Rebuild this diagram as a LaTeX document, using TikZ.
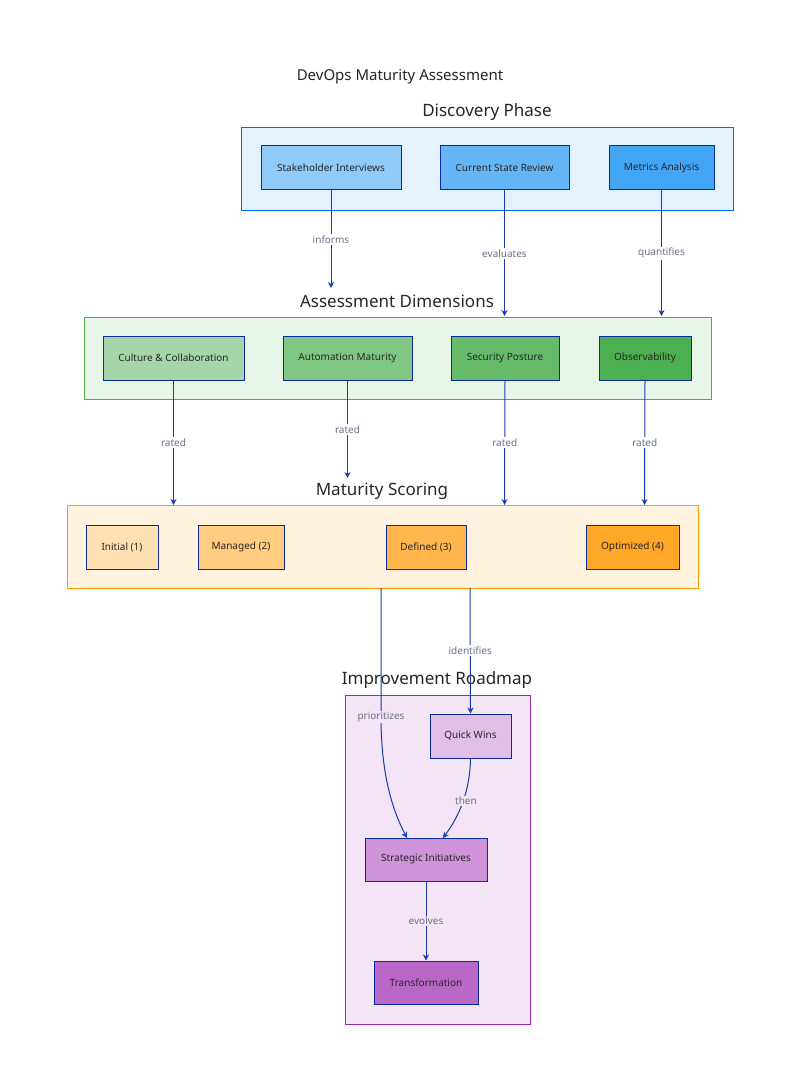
\documentclass[tikz,border=0pt]{standalone}
\usepackage{fontspec}
\setmainfont{Noto Sans}
\usetikzlibrary{arrows.meta}
\definecolor{nb}{HTML}{0D2A9E}
\definecolor{ar}{HTML}{1A3AB0}
\definecolor{lg}{HTML}{6E6E8A}
\begin{document}
\begin{tikzpicture}[x=1pt,y=-1pt,
 box/.style={draw=nb,line width=1pt,minimum height=44pt,font=\fontsize{10}{12}\selectfont,text=black!85,inner sep=0pt},
 cl/.style={line width=0.9pt},
 ct/.style={font=\fontsize{17}{20}\selectfont,text=black!85},
 e/.style={draw=ar,line width=1pt,-{Stealth[length=6pt,width=6pt]}},
 lb/.style={font=\fontsize{10}{12}\selectfont,text=lg,fill=white,inner sep=1.5pt}]
\useasboundingbox (0,0) rectangle (800,1091);
\node[font=\fontsize{15}{18}\selectfont,text=black!85] (title) at (400,77) {DevOps Maturity Assessment};
% clusters
\draw[cl,draw=blue!60!cyan,fill={rgb,255:red,227;green,242;blue,253}] (241,127) rectangle (733,210);
\node[ct] (t1) at (487,112) {Discovery Phase};
\draw[cl,draw={rgb,255:red,76;green,175;blue,80},fill={rgb,255:red,232;green,245;blue,233}] (84,317) rectangle (711,399);
\node[ct] (t2) at (397,301) {Assessment Dimensions};
\draw[cl,draw={rgb,255:red,255;green,152;blue,0},fill={rgb,255:red,255;green,243;blue,224}] (67,505) rectangle (698,588);
\node[ct] (t3) at (382,491) {Maturity Scoring};
\draw[cl,draw={rgb,255:red,156;green,39;blue,176},fill={rgb,255:red,243;green,229;blue,245}] (345,695) rectangle (530,1024);
\node[ct] (t4) at (437,680) {Improvement Roadmap};
\coordinate (mc1) at (381,588);
\coordinate (mc2) at (470,588);
% nodes
\node[box,fill={rgb,255:red,144;green,202;blue,249},minimum width=140pt] (sh) at (331,168) {Stakeholder Interviews};
\node[box,fill={rgb,255:red,100;green,181;blue,246},minimum width=129pt] (cs) at (504.5,168) {Current State Review};
\node[box,fill={rgb,255:red,66;green,165;blue,245},minimum width=105pt] (ma) at (661.5,168) {Metrics Analysis};
\node[box,fill={rgb,255:red,165;green,214;blue,167},minimum width=141pt] (cu) at (173.5,358) {Culture \& Collaboration};
\node[box,fill={rgb,255:red,129;green,199;blue,132},minimum width=129pt] (au) at (347.5,358) {Automation Maturity};
\node[box,fill={rgb,255:red,102;green,187;blue,106},minimum width=108pt] (se) at (505,358) {Security Posture};
\node[box,fill={rgb,255:red,76;green,175;blue,80},minimum width=92pt] (ob) at (645,358) {Observability};
\node[box,fill={rgb,255:red,255;green,224;blue,178},minimum width=72pt] (in) at (122,547) {Initial (1)};
\node[box,fill={rgb,255:red,255;green,204;blue,128},minimum width=86pt] (mg) at (241,547) {Managed (2)};
\node[box,fill={rgb,255:red,255;green,183;blue,77},minimum width=80pt] (df) at (426,547) {Defined (3)};
\node[box,fill={rgb,255:red,255;green,167;blue,38},minimum width=93pt] (op) at (632.5,547) {Optimized (4)};
\node[box,fill={rgb,255:red,225;green,190;blue,231},minimum width=81pt] (qw) at (470.5,736) {Quick Wins};
\node[box,fill={rgb,255:red,206;green,147;blue,216},minimum width=122pt,minimum height=43pt] (si) at (426,859.5) {Strategic Initiatives};
\node[box,fill={rgb,255:red,186;green,104;blue,200},minimum width=104pt,minimum height=43pt] (tr) at (426,982.5) {Transformation};
% edges
\draw[e] (sh.south) -- (331,288) node[lb,pos=0.5] {informs};
\draw[e] (cs.south) -- (504.5,316) node[lb,pos=0.5] {evaluates};
\draw[e] (ma.south) -- (661.5,316) node[lb,pos=0.5] {quantifies};
\draw[e] (cu.south) -- (173.5,505) node[lb,pos=0.5] {rated};
\draw[e] (au.south) -- (347.5,478) node[lb,pos=0.5] {rated};
\draw[e] (se.south) -- (504.5,505) node[lb,pos=0.5] {rated};
\draw[e] (ob.south) -- (644.5,505) node[lb,pos=0.5] {rated};
\draw[e] (mc1) -- (381,717) .. controls (381,780) and (395,815) .. (407,838);
\node[lb,fill={rgb,255:red,243;green,229;blue,245}] (lp) at (381,717) {prioritizes};
\draw[e] (mc2) -- (qw.north) node[lb,pos=0.5] {identifies};
\draw[e] (qw.south) .. controls (470,790) and (460,815) .. (443,838);
\node[lb,fill={rgb,255:red,243;green,229;blue,245}] (lt) at (466,801) {then};
\draw[e] (si.south) -- (tr.north) node[lb,pos=0.5,fill={rgb,255:red,243;green,229;blue,245}] {evolves};
\end{tikzpicture}
\end{document}
